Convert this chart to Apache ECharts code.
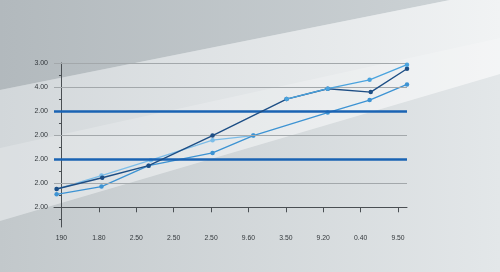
<!DOCTYPE html>
<html><head><meta charset="utf-8">
<script src="https://cdn.jsdelivr.net/npm/echarts@6/dist/echarts.min.js"></script>
<style>html,body{margin:0;padding:0;}#c{width:500px;height:272px;}</style>
</head><body><div id="c"></div>
<script>
const xLabels = ['190','1.80','2.50','2.50','2.50','9.60','3.50','9.20','0.40','9.50'];
const yLabels = ['2.00','2.00','2.00','2.00','2.00','4.00','3.00'];
const highlightLines = [2, 4];
const greyLines = [1, 3, 5, 6];

const darkX = [-0.13, 1.09, 2.33, 4.04, 6.02, 7.12, 8.27, 9.24];
const darkY = [0.76, 1.23, 1.73, 2.98, 4.5, 4.93, 4.79, 5.76];
const midX = [-0.13, 1.07, 2.33, 4.04, 5.13, 7.12, 8.24, 9.24];
const midY = [0.54, 0.86, 1.73, 2.26, 2.98, 3.94, 4.46, 5.11];
const paleX = [-0.13, 1.07, 2.39, 4.04, 5.13];
const paleY = [0.76, 1.32, 1.96, 2.79, 2.98];
const lightX = [6.02, 7.12, 8.24, 9.24];
const lightY = [4.5, 4.93, 5.30, 5.93];

const pairs = (xs, ys) => xs.map((x, i) => [x, ys[i]]);
const chart = echarts.init(document.getElementById('c'), null, {renderer: 'canvas'});
const font = '"Liberation Sans", Arial, sans-serif';

function lineSeries(name, xs, ys, color, width, z) {
  return {
    name, type: 'line', data: pairs(xs, ys), z,
    symbol: 'circle', symbolSize: 4.5, showSymbol: true,
    lineStyle: {color, width}, itemStyle: {color},
    animation: false
  };
}

chart.setOption({
  animation: false,
  backgroundColor: {type: 'linear', x: 0, y: 0, x2: 1, y2: 0,
    colorStops: [{offset: 0, color: '#c2c8cb'}, {offset: 1, color: '#e3e7e9'}]},
  graphic: [
    {type: 'polygon', z: -10, silent: true,
     shape: {points: [[0,0],[450,0],[0,90]]},
     style: {fill: {type: 'linear', x: 0, y: 0, x2: 1, y2: 0, colorStops: [{offset: 0, color: '#b2b9bd'}, {offset: 1, color: '#ccd2d5'}]}}},
    {type: 'polygon', z: -10, silent: true,
     shape: {points: [[0,90],[450,0],[500,0],[500,74],[0,221]]},
     style: {fill: {type: 'linear', x: 0, y: 0, x2: 1, y2: 0, colorStops: [{offset: 0, color: '#d2d7da'}, {offset: 1, color: '#f1f3f4'}]}}},
    {type: 'polygon', z: -9, silent: true,
     shape: {points: [[0,148],[500,38],[500,74],[0,221]]},
     style: {fill: 'rgba(255,255,255,0.2)'}}
  ],
  grid: {left: 54, right: 93, top: 63, bottom: 45, containLabel: false},
  xAxis: {
    type: 'value', min: -0.2, max: 9.24,
    axisLine: {show: true, lineStyle: {color: '#4a4f53', width: 1}},
    axisTick: {show: true, customValues: [0,1,2,3,4,5,6,7,8,9], length: 5, lineStyle: {color: '#4a4f53'}},
    axisLabel: {show: true, customValues: [0,1,2,3,4,5,6,7,8,9], fontSize: 6.8, color: '#33383c', fontFamily: font, margin: 8,
      formatter: v => xLabels[Math.round(v)]},
    splitLine: {show: false}
  },
  yAxis: {
    type: 'value', min: -0.82, max: 6,
    axisLine: {show: true, lineStyle: {color: '#4a4f53', width: 1}},
    axisTick: {show: true, inside: false, length: 2.5, customValues: [-0.5,0,0.5,1,1.5,2,2.5,3,3.5,4,4.5,5,5.5,6], lineStyle: {color: '#4a4f53'}},
    axisLabel: {show: true, customValues: [0,1,2,3,4,5,6], fontSize: 7, color: '#33383c', fontFamily: font, margin: 6,
      formatter: v => yLabels[Math.round(v)]},
    splitLine: {show: false}
  },
  series: [
    {type: 'line', data: [], z: 1, markLine: {silent: true, symbol: 'none', animation: false,
      label: {show: false},
      data: greyLines.map(v => ({yAxis: v, lineStyle: {color: '#a3a8ab', width: 1, type: 'solid'}}))
        .concat(highlightLines.map(v => ({yAxis: v, lineStyle: {color: '#1a63b3', width: 2.5, type: 'solid'}})))}},
    lineSeries('pale', paleX, paleY, '#7dbde8', 1.3, 3),
    lineSeries('mid', midX, midY, '#3d93d3', 1.3, 4),
    lineSeries('dark', darkX, darkY, '#1d4e85', 1.4, 5),
    lineSeries('light', lightX, lightY, '#4aa3de', 1.3, 6)
  ]
});
</script></body></html>
